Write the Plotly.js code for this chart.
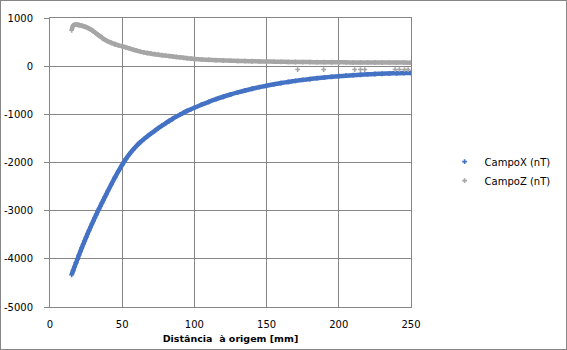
<!DOCTYPE html>
<html>
<head>
<meta charset="utf-8">
<script src="https://cdn.plot.ly/plotly-3.0.1.min.js"></script>
<style>
  html, body { margin: 0; padding: 0; background: #fff; }
  #wrap { position: relative; width: 567px; height: 350px; }
  #chart { width: 567px; height: 350px; }
  #frame { position: absolute; left: 0; top: 0; width: 567px; height: 350px; box-sizing: border-box; border: 1px solid #868686; pointer-events: none; }
</style>
</head>
<body>
<div id="wrap"><div id="chart"></div><div id="frame"></div></div>
<script>
// Distance from origin [mm]
const distance = [15,16,17,18,19,20,21,22,23,24,25,26,27,28,29,30,31,32,33,34,35,36,37,38,39,40,
  42.5,45,47.5,50,52.5,55,57.5,60,62.5,65,67.5,70,72.5,75,77.5,80,82.5,85,87.5,90,92.5,95,97.5,100,
  105,110,115,120,125,130,135,140,145,150,155,160,165,170,175,180,185,190,195,200,205,210,215,220,225,230,235,240,245,250];

// CampoX (nT)
const campoX = [-4330,-4245,-4163,-4084,-4007,-3927,-3849,-3773,-3698,-3625,-3553,-3482,-3413,-3345,-3278,-3212,-3147,-3083,-3020,-2958,-2897,-2836,-2776,-2716,-2657,-2598,
  -2450,-2308,-2174,-2046,-1930,-1826,-1734,-1652,-1580,-1515,-1455,-1398,-1342,-1288,-1236,-1186,-1138,-1092,-1048,-1006,-966,-929,-895,-863,
  -800,-740,-685,-635,-588,-545,-505,-469,-436,-405,-377,-351,-327,-305,-285,-267,-250,-235,-221,-208,-197,-187,-178,-170,-163,-157,-152,-147,-143,-140];

// CampoZ (nT)
const campoZ = [745,840,860,862,860,855,848,840,832,822,810,797,782,765,746,725,703,680,657,634,612,590,569,550,532,516,
  482,455,432,413,392,368,345,323,303,286,272,259,248,238,228,219,209,200,191,183,174,165,157,150,
  139,131,124,118,113,109,105,102,99,96,93,91,89,87,85,84,83,82,81,80,79,78,77,77,76,75,75,74,74,73];

// Stray CampoZ readings below the main band
const campoZStrayX = [171.5,189.5,211,215,218,239,242,245.5,248];
const campoZStrayY = [-70,-70,-70,-70,-70,-70,-70,-70,-70];

// Axis ticks
const xTickVals = [0,50,100,150,200,250];
const xTickLabels = ['0','50','100','150','200','250'];
const yTickVals = [-5000,-4000,-3000,-2000,-1000,0,1000];
const yTickLabels = ['-5000','-4000','-3000','-2000','-1000','0','1000'];

const blue = '#4472C4';
const gray = '#A6A6A6';
const gridColor = '#868686';
const font = 'DejaVu Sans, Verdana, sans-serif';

const traces = [
  { x: distance, y: campoZ, mode: 'lines', line: {color: gray, width: 4.5, shape: 'spline', smoothing: 1}, showlegend: false, hoverinfo: 'skip', legendgroup: 'z' },
  { x: distance, y: campoX, mode: 'lines', line: {color: blue, width: 4.5, shape: 'spline', smoothing: 1}, showlegend: false, hoverinfo: 'skip', legendgroup: 'x' },
  { x: distance, y: campoX, mode: 'markers', name: 'CampoX (nT)', legendgroup: 'x',
    marker: {symbol: 'cross', size: 4, color: blue} },
  { x: distance.concat(campoZStrayX), y: campoZ.concat(campoZStrayY), mode: 'markers', name: 'CampoZ (nT)', legendgroup: 'z',
    marker: {symbol: 'cross', size: 4, color: gray} }
];

const layout = {
  width: 567, height: 350,
  margin: {l: 50, r: 155, t: 18, b: 43},
  paper_bgcolor: '#fff', plot_bgcolor: '#fff',
  font: {family: font, size: 10, color: '#000'},
  showlegend: true,
  legend: {x: 1.09, xanchor: 'left', y: 0.47, yanchor: 'middle', font: {family: font, size: 10, color: '#000'},
    traceorder: 'normal', bgcolor: 'rgba(0,0,0,0)', borderwidth: 0},
  xaxis: {
    range: [0, 250], tickvals: xTickVals, ticktext: xTickLabels,
    showgrid: true, gridcolor: gridColor, gridwidth: 1, zeroline: false,
    showline: true, linecolor: gridColor, linewidth: 1, mirror: true,
    ticks: '', ticklabelstandoff: 8,
    tickfont: {family: font, size: 10, color: '#000'},
    title: {text: 'Distância  à origem [mm]', font: {family: font, size: 9.5, color: '#000', weight: 'bold'}, standoff: 6}
  },
  yaxis: {
    range: [-5000, 1000], tickvals: yTickVals, ticktext: yTickLabels,
    showgrid: true, gridcolor: gridColor, gridwidth: 1, zeroline: false,
    showline: true, linecolor: gridColor, linewidth: 1, mirror: true,
    ticks: 'outside', ticklen: 5, tickcolor: gridColor, ticklabelstandoff: 9,
    tickfont: {family: font, size: 10, color: '#000'}
  }
};

Plotly.newPlot('chart', traces, layout, {displayModeBar: false, staticPlot: true});
</script>
</body>
</html>
